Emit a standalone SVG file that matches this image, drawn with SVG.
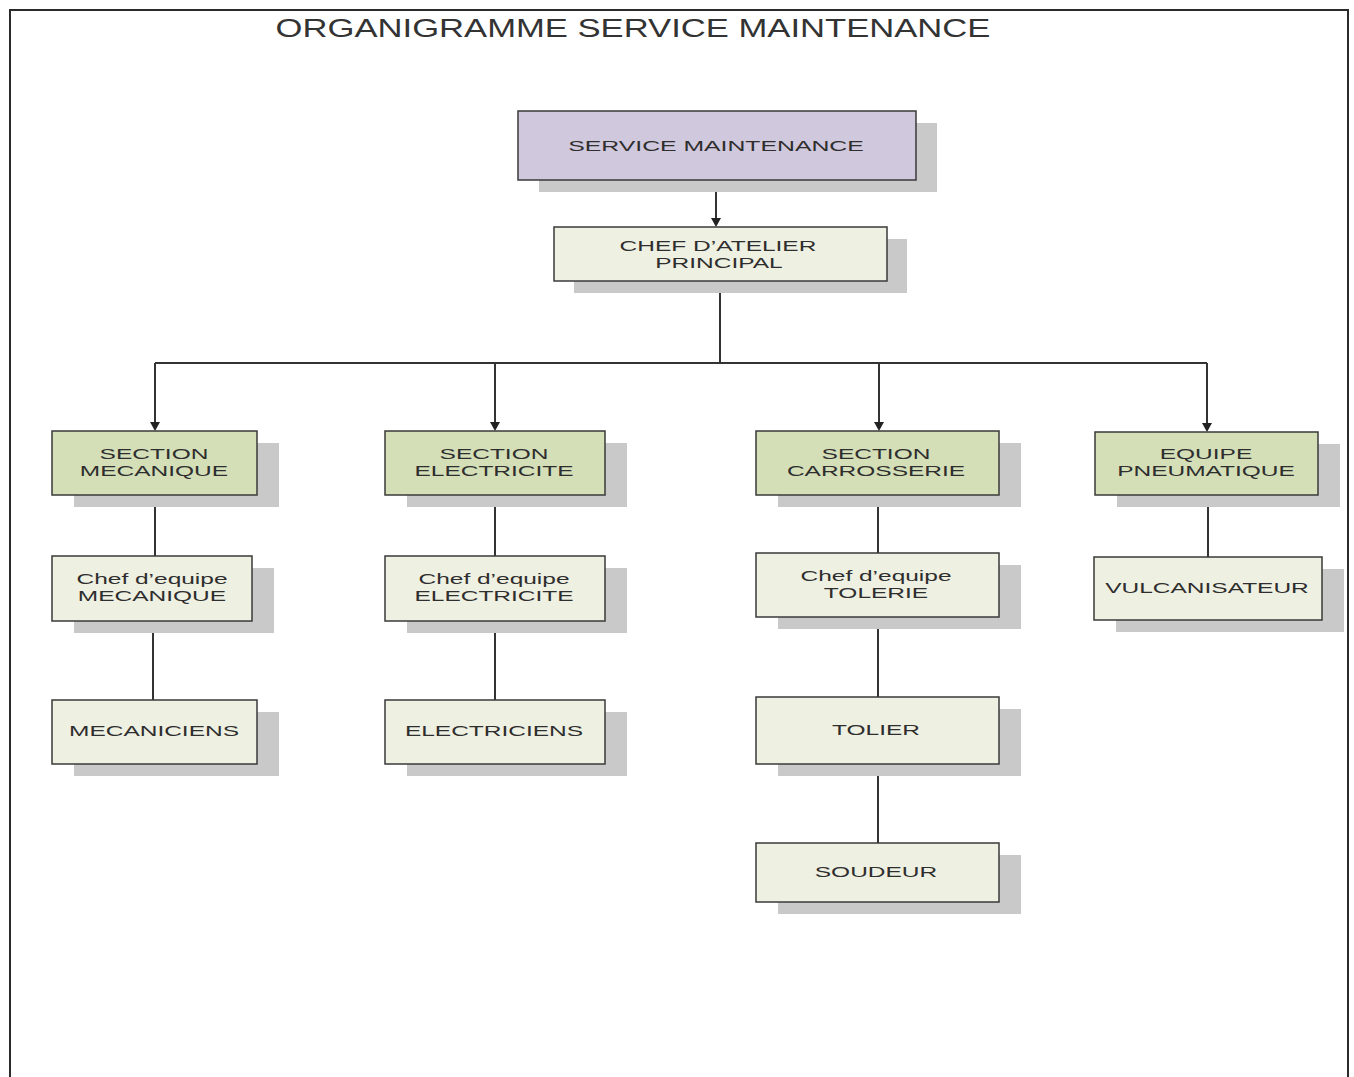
<svg xmlns="http://www.w3.org/2000/svg" width="1354" height="1077" viewBox="0 0 1354 1077">
<defs>
<style>
.frame{fill:none;stroke:#2b2b2b;stroke-width:2}
.title{font-family:"Liberation Sans",Arial,sans-serif;font-size:25px;fill:#333;text-anchor:middle}
.sh{fill:#c9c9c9}
.box{stroke:#3a3a3a;stroke-width:1.5}
.top{fill:#d0c8dc}
.sec{fill:#d4dfb8}
.sub{fill:#eef0e2}
.t{font-family:"Liberation Sans",Arial,sans-serif;font-size:15.5px;fill:#2e2e2e;text-anchor:middle}
.c{fill:none;stroke:#333;stroke-width:2}
</style>
</defs>
<rect width="1354" height="1077" fill="#fff"/>
<path class="frame" d="M10,1077 V10 H1348 V1077"/>
<text class="title" transform="translate(633,37) scale(1.385,1)">ORGANIGRAMME SERVICE MAINTENANCE</text>

<g id="connectors">
<line class="c" x1="716" y1="180" x2="716" y2="218"/>
<path d="M711,218 L721,218 L716,227 Z" fill="#222"/>
<path class="c" d="M720,281 V363 M155,363 H1207"/>
<line class="c" x1="155" y1="363" x2="155" y2="422"/>
<path d="M150,422 L160,422 L155,431 Z" fill="#222"/>
<line class="c" x1="495" y1="363" x2="495" y2="422"/>
<path d="M490,422 L500,422 L495,431 Z" fill="#222"/>
<line class="c" x1="879" y1="363" x2="879" y2="422"/>
<path d="M874,422 L884,422 L879,431 Z" fill="#222"/>
<line class="c" x1="1207" y1="363" x2="1207" y2="423"/>
<path d="M1202,423 L1212,423 L1207,432 Z" fill="#222"/>
<path class="c" d="M155,495 V556 M153,621 V700"/>
<path class="c" d="M495,495 V556 M495,621 V700"/>
<path class="c" d="M878,495 V553 M878,617 V697 M878,764 V843"/>
<path class="c" d="M1208,495 V557"/>
</g>

<g id="n-service">
<rect class="sh" x="539" y="123" width="398" height="69"/>
<rect class="box top" x="518" y="111" width="398" height="69"/>
<text class="t" transform="translate(716,151) scale(1.6,1)">SERVICE MAINTENANCE</text>
</g>
<g id="n-chef-atelier">
<rect class="sh" x="574" y="239" width="333" height="54"/>
<rect class="box sub" x="554" y="227" width="333" height="54"/>
<text class="t" transform="translate(718,251) scale(1.58,1)">CHEF D’ATELIER</text>
<text class="t" transform="translate(719,268) scale(1.58,1)">PRINCIPAL</text>
</g>

<g id="n-sec-meca">
<rect class="sh" x="74" y="443" width="205" height="64"/>
<rect class="box sec" x="52" y="431" width="205" height="64"/>
<text class="t" transform="translate(154,459) scale(1.58,1)">SECTION</text>
<text class="t" transform="translate(154,476) scale(1.58,1)">MECANIQUE</text>
</g>
<g id="n-chef-meca">
<rect class="sh" x="74" y="568" width="200" height="65"/>
<rect class="box sub" x="52" y="556" width="200" height="65"/>
<text class="t" transform="translate(152,584) scale(1.58,1)">Chef d’equipe</text>
<text class="t" transform="translate(152,601) scale(1.58,1)">MECANIQUE</text>
</g>
<g id="n-mecaniciens">
<rect class="sh" x="74" y="712" width="205" height="64"/>
<rect class="box sub" x="52" y="700" width="205" height="64"/>
<text class="t" transform="translate(154,736) scale(1.58,1)">MECANICIENS</text>
</g>

<g id="n-sec-elec">
<rect class="sh" x="407" y="443" width="220" height="64"/>
<rect class="box sec" x="385" y="431" width="220" height="64"/>
<text class="t" transform="translate(494,459) scale(1.58,1)">SECTION</text>
<text class="t" transform="translate(494,476) scale(1.58,1)">ELECTRICITE</text>
</g>
<g id="n-chef-elec">
<rect class="sh" x="407" y="568" width="220" height="65"/>
<rect class="box sub" x="385" y="556" width="220" height="65"/>
<text class="t" transform="translate(494,584) scale(1.58,1)">Chef d’equipe</text>
<text class="t" transform="translate(494,601) scale(1.58,1)">ELECTRICITE</text>
</g>
<g id="n-electriciens">
<rect class="sh" x="407" y="712" width="220" height="64"/>
<rect class="box sub" x="385" y="700" width="220" height="64"/>
<text class="t" transform="translate(494,736) scale(1.58,1)">ELECTRICIENS</text>
</g>

<g id="n-sec-carr">
<rect class="sh" x="778" y="443" width="243" height="64"/>
<rect class="box sec" x="756" y="431" width="243" height="64"/>
<text class="t" transform="translate(876,459) scale(1.58,1)">SECTION</text>
<text class="t" transform="translate(876,476) scale(1.58,1)">CARROSSERIE</text>
</g>
<g id="n-chef-tole">
<rect class="sh" x="778" y="565" width="243" height="64"/>
<rect class="box sub" x="756" y="553" width="243" height="64"/>
<text class="t" transform="translate(876,581) scale(1.58,1)">Chef d’equipe</text>
<text class="t" transform="translate(876,598) scale(1.58,1)">TOLERIE</text>
</g>
<g id="n-tolier">
<rect class="sh" x="778" y="709" width="243" height="67"/>
<rect class="box sub" x="756" y="697" width="243" height="67"/>
<text class="t" transform="translate(876,735) scale(1.58,1)">TOLIER</text>
</g>
<g id="n-soudeur">
<rect class="sh" x="778" y="855" width="243" height="59"/>
<rect class="box sub" x="756" y="843" width="243" height="59"/>
<text class="t" transform="translate(876,877) scale(1.58,1)">SOUDEUR</text>
</g>

<g id="n-equipe-pneu">
<rect class="sh" x="1117" y="444" width="223" height="63"/>
<rect class="box sec" x="1095" y="432" width="223" height="63"/>
<text class="t" transform="translate(1206,459) scale(1.58,1)">EQUIPE</text>
<text class="t" transform="translate(1206,476) scale(1.58,1)">PNEUMATIQUE</text>
</g>
<g id="n-vulca">
<rect class="sh" x="1116" y="569" width="228" height="63"/>
<rect class="box sub" x="1094" y="557" width="228" height="63"/>
<text class="t" transform="translate(1207,593) scale(1.58,1)">VULCANISATEUR</text>
</g>
</svg>
